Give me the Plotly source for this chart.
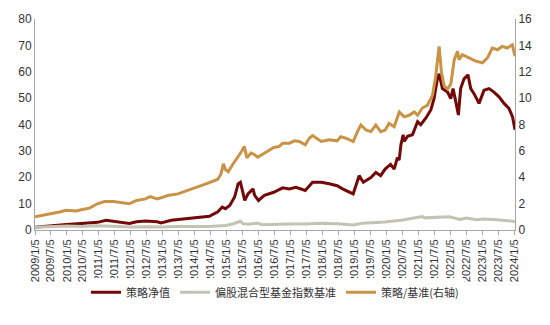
import plotly.graph_objects as go

# 策略净值 (left axis)
red_dates = ["2009-01-05","2009-06-20","2009-12-28","2010-06-18","2010-12-20","2011-03-28","2011-06-20",
 "2011-12-20","2012-03-10","2012-06-20","2012-11-01","2012-12-15","2013-04-10","2013-06-25","2013-12-25",
 "2014-06-20","2014-09-25","2014-11-15","2014-12-20","2015-02-08","2015-04-05","2015-05-15","2015-06-10",
 "2015-07-03","2015-07-30","2015-09-05","2015-11-01","2015-11-20","2016-01-03","2016-03-10","2016-06-25",
 "2016-10-05","2016-12-20","2017-03-05","2017-06-20","2017-09-12","2017-12-20","2018-03-20","2018-06-20",
 "2018-08-20","2018-11-05","2018-12-20","2019-02-26","2019-04-15","2019-07-10","2019-09-05","2019-10-30",
 "2019-12-20","2020-02-20","2020-04-01","2020-05-08","2020-05-28","2020-06-18","2020-07-13","2020-07-24",
 "2020-09-01","2020-10-27","2020-12-25","2021-01-30","2021-03-28","2021-05-25","2021-07-01","2021-08-08",
 "2021-08-28","2021-10-05","2021-12-02","2022-01-08","2022-02-03","2022-03-07","2022-04-05","2022-05-01",
 "2022-06-09","2022-07-24","2022-08-24","2022-10-01","2022-11-27","2023-01-23","2023-03-21","2023-05-17",
 "2023-07-13","2023-09-09","2023-11-04","2023-12-14","2024-01-12"]
red_vals = [1.0,1.6,2.1,2.5,2.9,3.7,3.4,
 2.5,3.1,3.4,3.1,2.7,3.7,4.0,4.7,
 5.2,6.9,8.7,8.1,9.3,12.5,17.5,18.1,
 15.0,11.2,13.7,15.6,13.1,11.2,13.1,14.3,
 16.0,15.6,16.2,15.0,18.1,18.1,17.5,16.8,
 15.6,14.3,13.7,20.6,18.1,19.9,21.8,20.6,
 23.1,24.9,23.1,27.4,26.5,32.4,36.1,33.6,
 35.5,36.1,41.1,39.9,42.4,45.5,49.8,57.3,
 59.2,53.6,52.3,49.8,53.6,48.6,43.6,53.6,
 57.3,58.8,53.6,51.7,48.0,53.0,53.6,52.3,
 50.5,48.0,46.1,43.0,38.0]

# 偏股混合型基金指数基准 (left axis)
gray_dates = ["2009-01-05","2009-07-20","2010-01-05","2010-07-05","2010-11-10","2011-06-20","2011-12-20",
 "2012-06-20","2012-12-20","2013-06-20","2013-12-20","2014-06-20","2014-12-20","2015-03-15","2015-06-10",
 "2015-07-10","2015-09-10","2015-12-20","2016-02-15","2016-06-20","2016-12-20","2017-06-20","2017-12-20",
 "2018-06-20","2018-12-20","2019-04-10","2019-12-20","2020-07-10","2020-12-20","2021-02-15","2021-03-20",
 "2021-08-20","2021-12-20","2022-04-25","2022-07-05","2022-10-30","2023-01-20","2023-06-20","2023-10-20",
 "2024-01-12"]
gray_vals = [1.0,1.4,1.5,1.35,1.6,1.4,1.1,
 1.2,1.1,1.3,1.3,1.35,1.7,2.3,3.3,
 2.4,2.2,2.6,2.0,2.2,2.3,2.3,2.6,
 2.4,1.9,2.6,3.0,3.8,4.6,5.1,4.6,
 4.9,5.0,4.0,4.5,3.9,4.2,3.9,3.5,
 3.2]

# 策略/基准 (right axis)
gold_dates = ["2009-01-05","2009-06-20","2009-10-12","2009-12-28","2010-04-20","2010-06-18","2010-09-20",
 "2010-12-20","2011-03-10","2011-06-20","2011-10-01","2011-12-20","2012-03-10","2012-06-20","2012-08-15",
 "2012-11-01","2012-12-15","2013-03-01","2013-06-25","2013-09-10","2013-12-25","2014-03-18","2014-06-20",
 "2014-09-25","2014-10-30","2014-11-28","2014-12-20","2015-01-22","2015-03-14","2015-05-08","2015-06-25",
 "2015-07-24","2015-08-24","2015-10-08","2015-11-16","2015-12-25","2016-03-10","2016-06-25","2016-08-28",
 "2016-10-05","2016-12-20","2017-02-17","2017-04-12","2017-06-20","2017-08-05","2017-09-12","2017-12-20",
 "2018-03-20","2018-06-20","2018-07-30","2018-09-27","2018-12-20","2019-02-07","2019-03-18","2019-05-15",
 "2019-07-10","2019-09-05","2019-10-30","2019-12-20","2020-02-03","2020-04-01","2020-05-30","2020-07-24",
 "2020-09-20","2020-11-16","2020-12-25","2021-02-17","2021-04-15","2021-06-13","2021-07-20","2021-08-28",
 "2021-09-24","2021-10-24","2021-12-02","2022-01-08","2022-02-17","2022-03-26","2022-04-13","2022-05-20",
 "2022-08-05","2022-10-20","2023-01-05","2023-03-03","2023-04-28","2023-06-25","2023-08-18","2023-10-15",
 "2023-12-12","2024-01-12"]
gold_vals = [1.0,1.19,1.37,1.49,1.44,1.54,1.66,
 1.99,2.16,2.16,2.09,1.99,2.24,2.36,2.54,
 2.36,2.44,2.61,2.74,2.91,3.18,3.36,3.6,
 3.85,4.23,5.02,4.6,4.42,4.97,5.47,5.97,
 6.34,5.47,5.84,5.72,5.52,5.84,6.26,6.34,
 6.58,6.58,6.76,6.71,6.46,6.96,7.16,6.71,
 6.84,6.76,7.08,6.96,6.71,7.46,7.96,7.58,
 7.46,7.96,7.46,7.58,8.08,7.83,8.95,8.58,
 8.7,8.95,8.7,9.25,9.45,10.2,11.68,13.92,
 11.93,10.94,10.69,11.06,12.92,13.55,12.92,13.3,
 13.05,12.8,12.68,13.05,13.8,13.67,13.92,13.8,
 14.04,13.18]

tick_dates = [f"{y}-{m:02d}-05" for y in range(2009, 2025) for m in (1, 7)][:31]
tick_labels = [f"{y}/{m}/5" for y in range(2009, 2025) for m in (1, 7)][:31]

RED = "#730808"
GRAY = "#C3C3B3"
GOLD = "#C99245"
AXIS = "#A6A6A6"
FONT = "Liberation Sans, Arial, Noto Sans CJK SC, sans-serif"

fig = go.Figure()
fig.add_trace(go.Scatter(x=red_dates, y=red_vals, name="策略净值", mode="lines",
                         line=dict(color=RED, width=3)))
fig.add_trace(go.Scatter(x=gray_dates, y=gray_vals, name="偏股混合型基金指数基准", mode="lines",
                         line=dict(color=GRAY, width=3)))
fig.add_trace(go.Scatter(x=gold_dates, y=gold_vals, name="策略/基准(右轴)", mode="lines",
                         line=dict(color=GOLD, width=3), yaxis="y2"))

fig.update_layout(
    width=550, height=325,
    margin=dict(l=35, r=35, t=16, b=95),
    paper_bgcolor="white", plot_bgcolor="white",
    font=dict(family=FONT, size=11, color="#333333"),
    showlegend=True,
    legend=dict(orientation="h", x=0.5, xanchor="center", y=-0.295, yanchor="middle",
                font=dict(family="Noto Sans CJK SC, sans-serif", size=11, color="#333333"),
                itemwidth=30, tracegroupgap=0),
    xaxis=dict(type="date", range=["2009-01-05", "2024-01-12"],
               tickmode="array", tickvals=tick_dates, ticktext=tick_labels, tickangle=-90,
               showgrid=False, showline=True, linecolor=AXIS, linewidth=1,
               ticks="outside", ticklen=4, tickcolor=AXIS,
               tickfont=dict(size=11, color="#333333"), zeroline=False),
    yaxis=dict(range=[0, 80], dtick=10, showgrid=False, showline=True, linecolor=AXIS,
               linewidth=1, ticks="", zeroline=False, tickfont=dict(size=12, color="#333333")),
    yaxis2=dict(range=[0, 16], dtick=2, overlaying="y", side="right", showgrid=False,
                showline=True, linecolor=AXIS, linewidth=1, ticks="", zeroline=False,
                tickfont=dict(size=12, color="#333333")),
)

fig.write_html("out.html")
